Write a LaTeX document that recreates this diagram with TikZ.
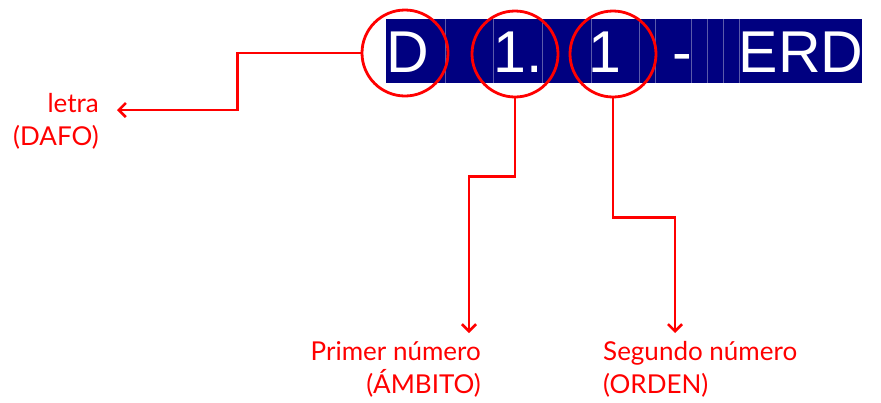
\documentclass[tikz,border=0pt]{standalone}
\usepackage{fontspec}
\setmainfont{Liberation Sans}
\newfontfamily\labelfont{Lato}
\usetikzlibrary{arrows.meta}

\definecolor{codenavy}{RGB}{0,0,128}
\definecolor{codegrid}{RGB}{90,90,170}
\definecolor{markred}{RGB}{255,0,0}

\tikzset{
  codetext/.style={text=white, inner sep=0pt, anchor=base, font=\fontsize{59}{59}\selectfont},
  ring/.style={circle, draw=markred, line width=2.8pt, inner sep=0pt, minimum size=86pt},
  pointer/.style={draw=markred, line width=2.8pt, -{Straight Barb[length=7pt,width=14pt,line width=2.6pt]}},
  note/.style={text=markred, inner sep=0pt, font=\labelfont\fontsize{26}{33}\selectfont}
}

\begin{document}
\begin{tikzpicture}[x=1pt,y=-1pt]
            \useasboundingbox (0,0) rectangle (881,402);

            % banner
            \fill[codenavy] (386,19) rectangle (862,83);
            \foreach \gx in {445,493,542,591,639,655,691,707,723,739}{
                \draw[codegrid, line width=0.6pt] (\gx,19) -- (\gx,83);
            }

            \node[codetext] (ltrD) at (408,72) {D};
            \node[codetext] (num1) at (518,72) {1.};
            \node[codetext] (num2) at (605,72) {1};
            \node[codetext] (dash) at (682,72) {-};
            \node[codetext] (code) at (801,72) {ERD};

            % circles
            \node[ring] (cD) at (405,53) {};
            \node[ring] (c1) at (515,54) {};
            \node[ring] (c2) at (613,54) {};

            % arrow ends
            \coordinate (tipD) at (117,110);
            \coordinate (tip1) at (469,333);
            \coordinate (tip2) at (675,333);

            \draw[pointer] (cD.west) -- ++(-123,0) |- (tipD);
            \draw[pointer] (c1.south) -- ++(0,78) -| (tip1);
            \draw[pointer] (c2.south) -- ++(0,119) -| (tip2);

            % labels
            \node[note, align=right, anchor=north east] (dafo) at (99,93) {letra\\(DAFO)};
            \node[note, align=right, anchor=north east] (ambito) at (481,341) {Primer número\\(ÁMBITO)};
            \node[note, align=left, anchor=north west] (orden) at (603,341) {Segundo número\\(ORDEN)};
        \end{tikzpicture}
\end{document}
